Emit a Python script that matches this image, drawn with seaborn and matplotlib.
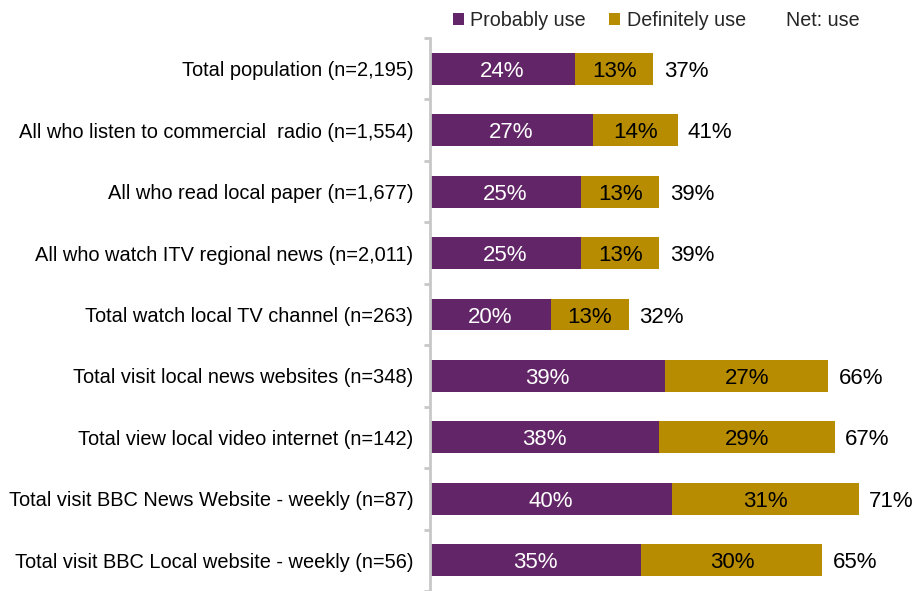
import matplotlib
matplotlib.use("Agg")
import matplotlib.pyplot as plt
from matplotlib.patches import Patch
import seaborn as sns
import pandas as pd
import numpy as np

categories = [
    "Total population (n=2,195)",
    "All who listen to commercial  radio (n=1,554)",
    "All who read local paper (n=1,677)",
    "All who watch ITV regional news (n=2,011)",
    "Total watch local TV channel (n=263)",
    "Total visit local news websites (n=348)",
    "Total view local video internet (n=142)",
    "Total visit BBC News Website - weekly (n=87)",
    "Total visit BBC Local website - weekly (n=56)",
]
probably_use = [24, 27, 25, 25, 20, 39, 38, 40, 35]
definitely_use = [13, 14, 13, 13, 13, 27, 29, 31, 30]
net_use = [37, 41, 39, 39, 32, 66, 67, 71, 65]

PURPLE = "#622567"
GOLD = "#B88C00"

df = pd.DataFrame({
    "category": categories,
    "probably": probably_use,
    "definitely": definitely_use,
})
df["stacked"] = df["probably"] + df["definitely"]

sns.set_theme(style="white")
plt.rcParams["font.family"] = ["Liberation Sans", "DejaVu Sans"]

fig = plt.figure(figsize=(9.18, 5.91), dpi=100)
ax = fig.add_axes([430 / 918, 0.0, 483 / 918, 553 / 591])

# gold segment: full stack length, purple drawn over it from zero
sns.barplot(data=df, y="category", x="stacked", orient="h", color=GOLD,
            width=0.52, saturation=1, ax=ax, linewidth=0)
sns.barplot(data=df, y="category", x="probably", orient="h", color=PURPLE,
            width=0.52, saturation=1, ax=ax, linewidth=0)

ax.set_xlim(0, 80)
ax.set_ylim(len(categories) - 0.5, -0.5)
ax.set_xlabel("")
ax.set_ylabel("")
ax.set_xticks([])

VAL_SIZE = 16
for i, (p, d, n) in enumerate(zip(probably_use, definitely_use, net_use)):
    ax.text(p / 2, i, f"{p}%", ha="center", va="center_baseline",
            color="white", fontsize=VAL_SIZE)
    ax.text(p + d / 2, i, f"{d}%", ha="center", va="center_baseline",
            color="black", fontsize=VAL_SIZE)
    ax.text(p + d + 1.7, i, f"{n}%", ha="left", va="center_baseline",
            color="black", fontsize=VAL_SIZE)

for s in ["top", "right", "bottom"]:
    ax.spines[s].set_visible(False)
ax.spines["left"].set_color("#C8C8C8")
ax.spines["left"].set_linewidth(2)

ax.set_yticks(np.arange(-0.5, len(categories), 1.0), minor=True)
ax.tick_params(axis="y", which="minor", length=4, width=2, color="#C8C8C8",
               direction="out", left=True)
ax.tick_params(axis="y", which="major", length=0, pad=12, labelsize=14.4,
               labelcolor="black")
for lbl in ax.get_yticklabels():
    lbl.set_verticalalignment("center_baseline")

handles = [
    Patch(facecolor=PURPLE, edgecolor="none"),
    Patch(facecolor=GOLD, edgecolor="none"),
    Patch(facecolor="none", edgecolor="none"),
]
fig.legend(handles, ["Probably use", "Definitely use", "Net: use"],
           loc="upper left", bbox_to_anchor=(435 / 918, 1.012), ncol=3,
           frameon=False, fontsize=14.2, handlelength=0.55, handleheight=0.55,
           handletextpad=0.35, columnspacing=1.15, borderpad=0.4)

fig.savefig("out.png", dpi=100)
